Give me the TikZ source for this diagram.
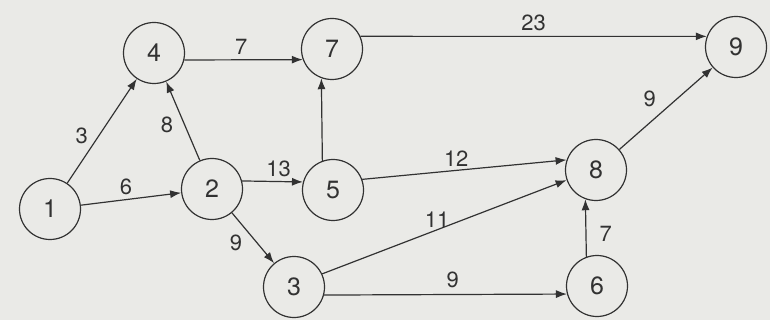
\documentclass[tikz,border=0pt]{standalone}
\usepackage{fontspec}
\setsansfont{TeX Gyre Heros}
\usepackage{tikz}
\usetikzlibrary{arrows.meta}
\definecolor{paper}{RGB}{234,234,231}
\definecolor{ink}{RGB}{50,50,50}

\begin{document}
\begin{tikzpicture}[x=1pt,y=-1pt,>={Latex[length=11pt,width=8pt]},
  event/.style={draw=ink,text=ink,circle,line width=1.2pt,minimum size=61pt,inner sep=0pt,font=\sffamily\fontsize{25}{30}\selectfont},
  act/.style={->,draw=ink,line width=1.2pt},
  dur/.style={text=ink,inner sep=1pt,font=\sffamily\fontsize{22}{26}\selectfont}]
\fill[paper] (0,0) rectangle (770,320);
\useasboundingbox (0,0) rectangle (770,320);
\node[event] (n1) at (50,209) {1};
\node[event] (n4) at (154,53) {4};
\node[event] (n2) at (212,189) {2};
\node[event] (n5) at (333,190) {5};
\node[event] (n7) at (332,49) {7};
\node[event] (n3) at (294,287) {3};
\node[event] (n8) at (596,170) {8};
\node[event] (n6) at (597,286) {6};
\node[event] (n9) at (736,47) {9};
\draw[act] (n1) -- (n4) node[dur,pos=0.45,left=9pt] {3};
\draw[act] (n1) -- (n2) node[dur,pos=0.45,above=3pt] {6};
\draw[act] (n2) -- (n4) node[dur,pos=0.45,left=10pt] {8};
\draw[act] (n4.-13) -- (n7.200) node[dur,pos=0.48,above=4pt] {7};
\draw[act] (n2.15) -- (n5.165) node[dur,pos=0.6,above=3pt] {13};
\draw[act] (n2) -- (n3) node[dur,pos=0.35,below left=3pt] {9};
\draw[act] (n5.110) -- (n7.250);
\draw[act] (n7.24) -- (n9.160) node[dur,pos=0.5,above=4pt] {23};
\draw[act] (n5.20) -- (n8.161) node[dur,pos=0.46,above=2pt] {12};
\draw[act] (n3.25) -- (n8.199) node[dur,pos=0.47,above=1pt] {11};
\draw[act] (n3.-15) -- (n6.195) node[dur,pos=0.53,above=5pt] {9};
\draw[act] (n6.110) -- (n8.250) node[dur,pos=0.4,right=12pt] {7};
\draw[act] (n8) -- (n9) node[dur,pos=0.45,above left=4pt] {9};
\end{tikzpicture}
\end{document}
